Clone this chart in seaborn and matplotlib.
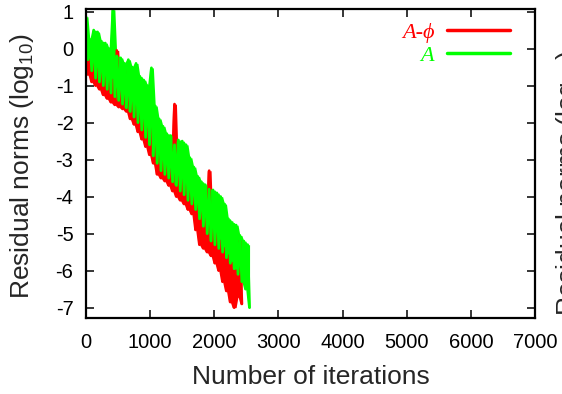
import pandas as pd
import seaborn as sns
import matplotlib.pyplot as plt

# Residual norm histories (log10), one sample every 30 iterations
step = 30

# A formulation (green)
resid_a = [
    0.86, -0.3, 0.25, -0.6, 0.5, -0.8, 0.45, -0.9, 0.2, -1.0,
    0.15, -1.1, 0.0, -1.2, 1.05, -1.3, -0.2, -1.4, -0.25, -1.5,
    -0.4, -1.6, -0.3, -1.7, -0.5, -1.85, -0.4, -2.0, -0.75, -2.2,
    -0.85, -2.4, -1.0, -2.6, -0.52, -2.9, -1.55, -3.1, -1.9, -3.3,
    -2.1, -3.4, -2.3, -3.5, -2.35, -3.6, -2.6, -3.7, -2.47, -3.85,
    -2.5, -3.95, -2.6, -4.1, -2.95, -4.2, -3.2, -4.35, -3.45, -4.6,
    -3.6, -4.8, -3.68, -5.0, -3.8, -5.2, -3.82, -5.3, -3.9, -5.4,
    -4.0, -5.5, -4.2, -5.65, -4.6, -5.8, -4.7, -5.95, -4.77, -6.1,
    -5.05, -6.3, -5.2, -6.5, -5.3, -7.0,
]

# A-phi formulation (red)
resid_aphi = [
    -0.1, -0.7, -0.3, -0.9, -0.4, -1.0, -0.5, -1.1, -0.6, -1.25,
    -0.7, -1.35, -0.8, -1.45, -0.85, -1.52, -0.05, -1.58, -0.9, -1.63,
    -1.0, -1.7, -0.6, -1.9, -1.2, -2.05, -1.3, -2.25, -1.5, -2.45,
    -1.7, -2.65, -1.9, -2.87, -2.1, -3.1, -2.4, -3.4, -2.6, -3.5,
    -2.8, -3.58, -2.9, -3.7, -3.0, -3.85, -1.5, -4.0, -3.2, -4.1,
    -3.3, -4.2, -3.4, -4.35, -3.6, -4.47, -3.8, -4.9, -4.0, -5.3,
    -4.3, -5.4, -4.5, -5.5, -3.3, -5.6, -4.8, -5.8, -5.0, -6.0,
    -5.2, -6.3, -5.4, -6.55, -5.6, -6.85, -5.8, -7.0, -6.0, -6.7,
    -5.2, -6.9,
]

series_labels = ["A-ϕ", "A"]
series_colors = ["#ff0000", "#00ff00"]
x_ticks = [0, 1000, 2000, 3000, 4000, 5000, 6000, 7000]
y_ticks = [-7, -6, -5, -4, -3, -2, -1, 0, 1]


def make_df(vals):
    d = pd.DataFrame({"iter": [i * step for i in range(len(vals))], "resid": vals})
    # the real history is so dense it paints a solid band: fill between neighbours
    d["hi"] = d["resid"].rolling(3, center=True, min_periods=1).max()
    d["lo"] = d["resid"].rolling(3, center=True, min_periods=1).min()
    return d


df_aphi = make_df(resid_aphi)
df_a = make_df(resid_a)

sns.set_theme(style="ticks")
plt.rcParams["font.family"] = ["Liberation Sans", "DejaVu Sans"]
plt.rcParams["mathtext.fontset"] = "custom"
plt.rcParams["mathtext.rm"] = "Liberation Sans"
plt.rcParams["axes.unicode_minus"] = False

fig = plt.figure(figsize=(5.62, 3.94), dpi=100)
ax = fig.add_axes([86 / 562, 76 / 394, 449 / 562, 309 / 394])

for d, lab, col in zip([df_aphi, df_a], series_labels, series_colors):
    ax.fill_between(d["iter"], d["lo"], d["hi"], color=col, linewidth=0)
    sns.lineplot(data=d, x="iter", y="resid", ax=ax, color=col,
                 linewidth=2.0, label=lab, estimator=None)

ax.set_xlim(0, 7000)
ax.set_ylim(-7.28, 1.07)
ax.set_xticks(x_ticks)
ax.set_yticks(y_ticks)
ax.tick_params(direction="in", length=6, width=1.1, top=True, right=True,
               labelsize=14.5, colors="black")
ax.tick_params(axis="x", pad=11)
ax.tick_params(axis="y", pad=9)
for sp in ax.spines.values():
    sp.set_linewidth(1.6)
    sp.set_color("black")

ax.set_xlabel("Number of iterations", fontsize=19, labelpad=9)
ax.set_ylabel("Residual norms (log$_{10}$)", fontsize=19)
ax.yaxis.set_label_coords(-0.112, 0.49)

leg = ax.legend(loc="upper right", bbox_to_anchor=(0.944, 0.958), frameon=False,
                markerfirst=False, handlelength=2.85, handletextpad=0.55,
                labelspacing=0.12, borderaxespad=0, borderpad=0,
                prop={"family": ["Liberation Serif", "DejaVu Serif"], "style": "italic", "size": 16})
for txt, col in zip(leg.get_texts(), series_colors):
    txt.set_color(col)
for ln in leg.get_lines():
    ln.set_linewidth(2.5)

# neighbouring panel's axis label, cut by the right edge
fig.text(554 / 562, 1 - 183 / 394, "Residual norms (log$_{10}$)", rotation=90,
         fontsize=19, ha="left", va="center")

fig.savefig("out.png", dpi=100)
